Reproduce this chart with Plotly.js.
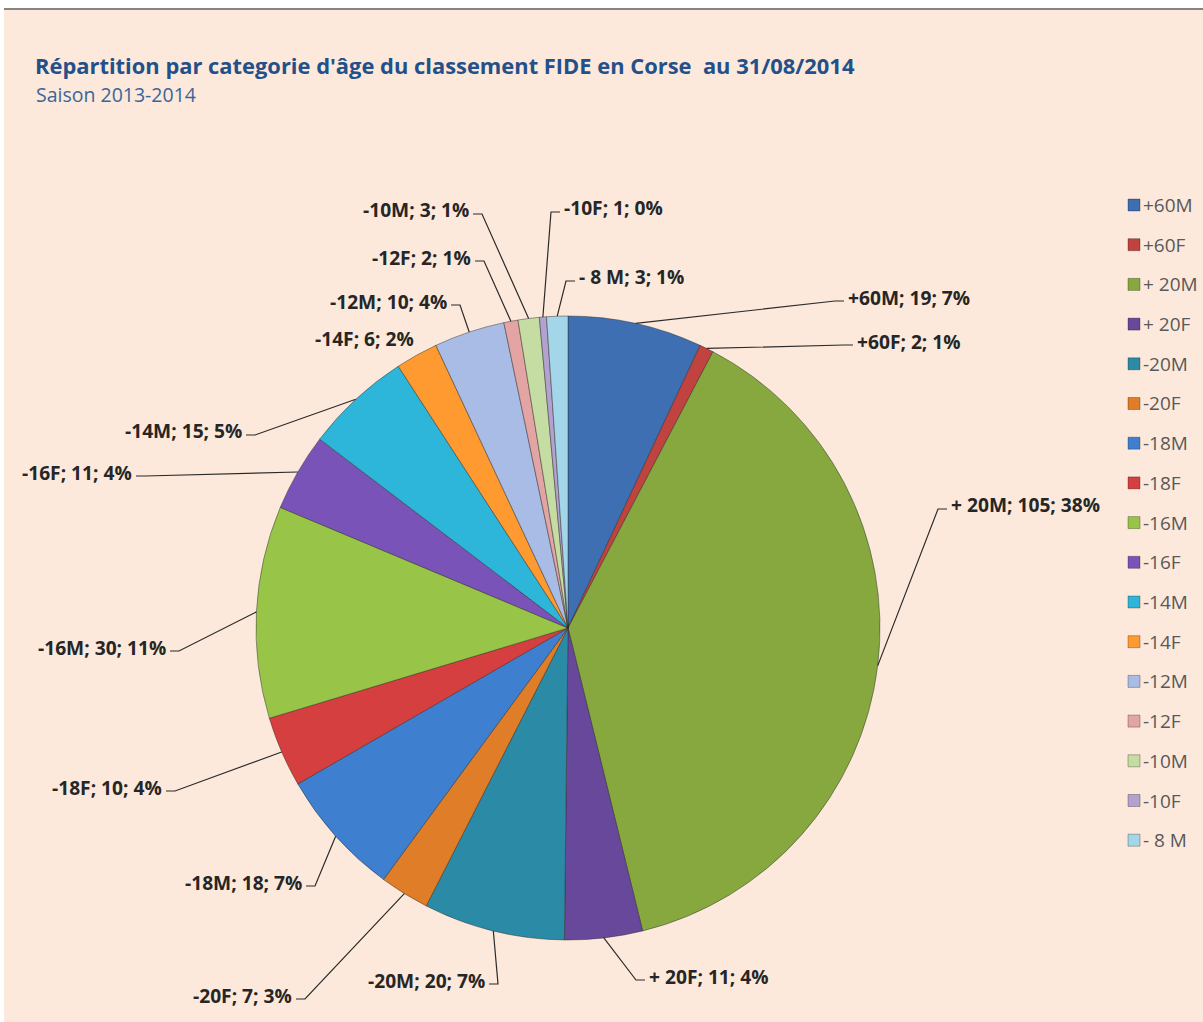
<!DOCTYPE html>
<html><head><meta charset="utf-8">
<script src="https://cdn.plot.ly/plotly-3.0.1.min.js"></script>
<style>
html,body{margin:0;padding:0;background:#fff;width:1203px;height:1022px;overflow:hidden}
#frame{position:absolute;left:4px;top:8px;width:1199px;height:2px;background:#8a837c}
#chart{position:absolute;left:4px;top:10px;width:1199px;height:1012px}
</style></head><body>
<div id="frame"></div><div id="chart"></div>
<script>
// ---- data ----
const categories = ['+60M','+60F','+ 20M','+ 20F','-20M','-20F','-18M','-18F','-16M','-16F','-14M','-14F','-12M','-12F','-10M','-10F','- 8 M'];
const counts = [19, 2, 105, 11, 20, 7, 18, 10, 30, 11, 15, 6, 10, 2, 3, 1, 3];
const titleText = "Répartition par categorie d'âge du classement FIDE en Corse  au 31/08/2014";
const subtitleText = "Saison 2013-2014";

// ---- styles ----
const sliceColors = ['#3F6FB3','#C0433F','#86A83E','#67489A','#2B8AA6','#E07D28',
  '#3F7FD0','#D63F3F','#98C447','#7A53B8','#2EB6DA','#FF9A30',
  '#A8BCE5','#E3A5A4','#C5DCA3','#B3A2CF','#A3D6E8'];
const FONT = "'Open Sans', Lato, sans-serif";
const W = 1199, H = 1012, OX = 4, OY = 10;          // chart div size / page offset
const PIE = {cx: 568, cy: 628, r: 312};             // page px
// label text anchor (page px): [edge x, center y, side, leader?]
const labelSpots = [
  [847, 297, 'left', true], [856, 341, 'left', true], [950, 505, 'left', true],
  [648, 976, 'left', true], [486, 980, 'right', true], [293, 995, 'right', true],
  [303, 882, 'right', true], [163, 787, 'right', true], [167, 647, 'right', true],
  [133, 472, 'right', true], [243, 431, 'right', true], [415, 338, 'right', false],
  [448, 301, 'right', true], [472, 257, 'right', true], [470, 210, 'right', true],
  [563, 208, 'left', true], [578, 277, 'left', true]
];
const legendTop = 205, legendStep = 39.7, legendX = 1128;

const px = x => (x - OX) / W;
const py = y => 1 - (y - OY) / H;

const total = counts.reduce((a, b) => a + b, 0);
const annotations = [];
const shapes = [];

annotations.push({xref:'paper', yref:'paper', x: px(35), y: py(95), xanchor:'left', yanchor:'middle',
  text: subtitleText, showarrow:false, borderpad:0, font:{family:FONT, size:19.5, color:'#3A659A'}});

let cum = 0;
counts.forEach((v, i) => {
  const mid = (cum + v / 2) / total * 2 * Math.PI;
  cum += v;
  const rx = PIE.cx + PIE.r * Math.sin(mid);
  const ry = PIE.cy - PIE.r * Math.cos(mid);
  const [ex, ey, side, leader] = labelSpots[i];
  const pct = Math.round(v / total * 100);
  annotations.push({xref:'paper', yref:'paper', x: px(ex), y: py(ey),
    xanchor: side === 'left' ? 'left' : 'right', yanchor:'middle', showarrow:false,
    borderpad:0, text: categories[i] + '; ' + v + '; ' + pct + '%',
    font:{family:FONT, size:19.2, color:'#262626', weight:700}});
  if (leader) {
    const s = side === 'left' ? -1 : 1;
    const tx = ex + s * 3, elx = ex + s * 12, ty = ey + 4;
    shapes.push({type:'path', xref:'paper', yref:'paper',
      path: `M ${px(rx)} ${py(ry)} L ${px(elx)} ${py(ty)} L ${px(tx)} ${py(ty)}`,
      line:{color:'#2b2b2b', width:1.2}});
  }
  // legend
  const ly = legendTop + legendStep * i;
  shapes.push({type:'rect', xref:'paper', yref:'paper',
    x0: px(legendX), x1: px(legendX + 12), y0: py(ly - 6), y1: py(ly + 6),
    fillcolor: sliceColors[i], line:{color:'rgba(0,0,0,0.35)', width:0.8}});
  annotations.push({xref:'paper', yref:'paper', x: px(legendX + 14), y: py(ly),
    xanchor:'left', yanchor:'middle', showarrow:false, borderpad:0,
    text: categories[i], font:{family:FONT, size:19, color:'#595959'}});
});

const trace = {
  type:'pie', labels: categories, values: counts, sort:false, direction:'clockwise', rotation:0,
  textinfo:'none', hoverinfo:'label+value+percent',
  marker:{colors: sliceColors, line:{color:'rgba(40,40,40,0.45)', width:1}},
  domain:{x:[px(PIE.cx - PIE.r), px(PIE.cx + PIE.r)], y:[py(PIE.cy + PIE.r), py(PIE.cy - PIE.r)]},
  showlegend:false
};

const layout = {
  width: W, height: H, margin:{l:0, r:0, t:0, b:0},
  paper_bgcolor:'#FCE9DB', plot_bgcolor:'#FCE9DB', showlegend:false,
  title:{text: titleText, x: px(35), xanchor:'left', xref:'paper', y: py(66), yref:'paper', yanchor:'middle',
    font:{family:FONT, size:21.9, color:'#23508A', weight:700}},
  annotations, shapes
};
Plotly.newPlot('chart', [trace], layout, {staticPlot:true, displayModeBar:false});
</script></body></html>
